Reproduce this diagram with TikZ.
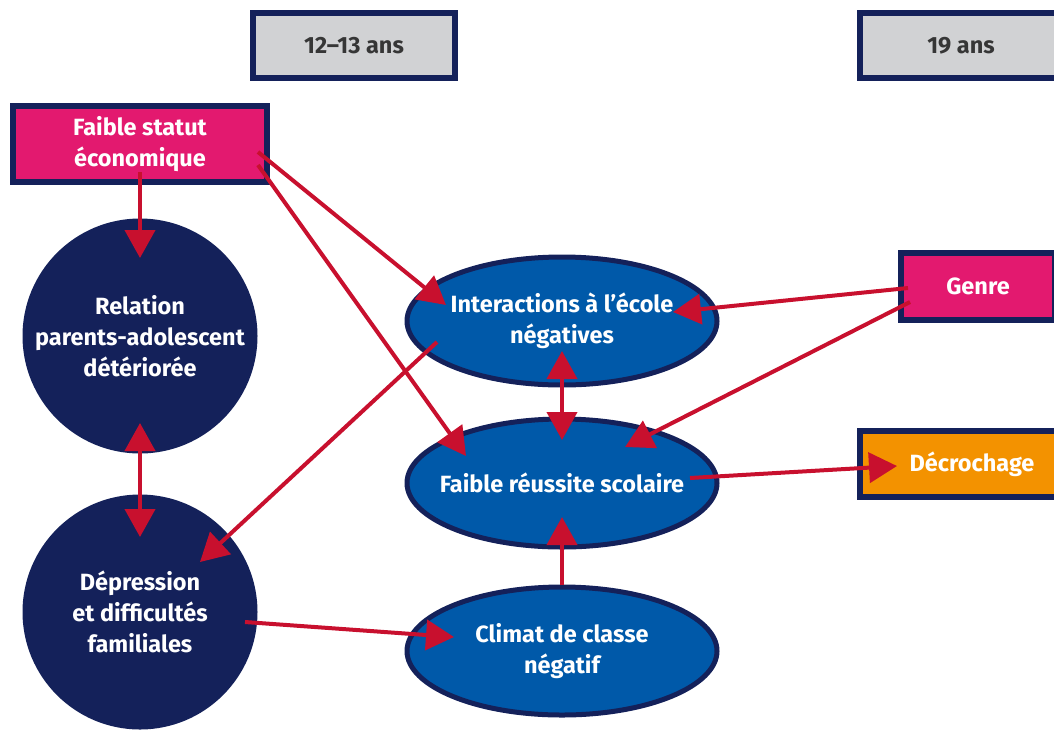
\documentclass[tikz,border=0pt]{standalone}
\usepackage{fontspec}
\setmainfont{Fira Sans}
\usetikzlibrary{shapes.geometric,arrows.meta,calc}
\definecolor{cnavy}{HTML}{14215A}
\definecolor{cpink}{HTML}{E3196F}
\definecolor{corange}{HTML}{F39200}
\definecolor{cgray}{HTML}{D1D2D4}
\definecolor{cblue}{HTML}{0059A9}
\definecolor{cred}{HTML}{C8102E}
\definecolor{ctext}{HTML}{363636}

\begin{document}
\begin{tikzpicture}[x=1pt,y=-1pt]
\tikzstyle{every node}=[font=\bfseries\fontsize{23.5}{31}\selectfont,align=center,text=white]
\tikzstyle{age}=[draw=cnavy,line width=6pt,fill=cgray,text=ctext,minimum width=202pt,minimum height=65pt]
\tikzstyle{factor}=[draw=cnavy,line width=6pt,fill=cpink]
\tikzstyle{disc}=[circle,fill=cnavy,minimum size=235pt,inner sep=0pt]
\tikzstyle{oval}=[ellipse,draw=cnavy,line width=5pt,fill=cblue,minimum width=310pt,minimum height=128pt,inner xsep=-40pt,inner ysep=0pt]
\tikzstyle{arr}=[draw=cred,line width=4pt,-{Triangle[length=28pt,width=30pt]}]
\tikzstyle{darr}=[arr,{Triangle[length=28pt,width=30pt]}-{Triangle[length=28pt,width=30pt]}]

\useasboundingbox (0,0) rectangle (1054,729);

% ages
\node[age] (early) at (354,45.5) {12--13 ans};
\node[age] (late) at (961,45.5) {19 ans};

% left column
\node[factor,minimum width=254pt,minimum height=76pt] (statut) at (140,144) {Faible statut\\économique};
\node[disc] (relation) at (140,336) {Relation\\parents-adolescent\\détériorée};
\node[disc] (depression) at (140,612) {Dépression\\et difficultés\\familiales};

% middle column
\node[oval] (inter) at (562,321) {Interactions à l’école\\négatives};
\node[oval] (reussite) at (562,483) {Faible réussite scolaire};
\node[oval] (climat) at (562,651) {Climat de classe\\négatif};

% right column
\node[factor,minimum width=154pt,minimum height=67pt] (genre) at (978,286.5) {Genre};
\node[factor,fill=corange,minimum width=224pt,minimum height=66pt] (decro) at (972,464) {Décrochage};

\draw[arr] ($(statut)+(0,28)$) -- ($(relation)+(0,-78)$);
\draw[arr] ($(statut)+(118,8)$) -- ($(inter)+(-116,-16)$);
\draw[arr] ($(statut)+(118,21)$) -- ($(reussite)+(-96,-27)$);
\draw[darr] ($(relation)+(0,87)$) -- ($(depression)+(0,-75)$);
\draw[arr] ($(inter)+(-125,21)$) -- ($(depression)+(60,-50)$);
\draw[darr] ($(inter)+(0,30)$) -- ($(reussite)+(0,-43)$);
\draw[arr] ($(genre)+(-70,1.5)$) -- ($(inter)+(111,-9)$);
\draw[arr] ($(genre)+(-68,15.5)$) -- ($(reussite)+(63,-36)$);
\draw[arr] ($(reussite)+(128,-5)$) -- ($(decro)+(-75,2)$);
\draw[arr] ($(climat)+(0,-66)$) -- ($(reussite)+(0,34)$);
\draw[arr] ($(depression)+(105,10)$) -- ($(climat)+(-108,-14)$);
%\draw[arr] (relation) -- (inter);
\end{tikzpicture}
\end{document}
